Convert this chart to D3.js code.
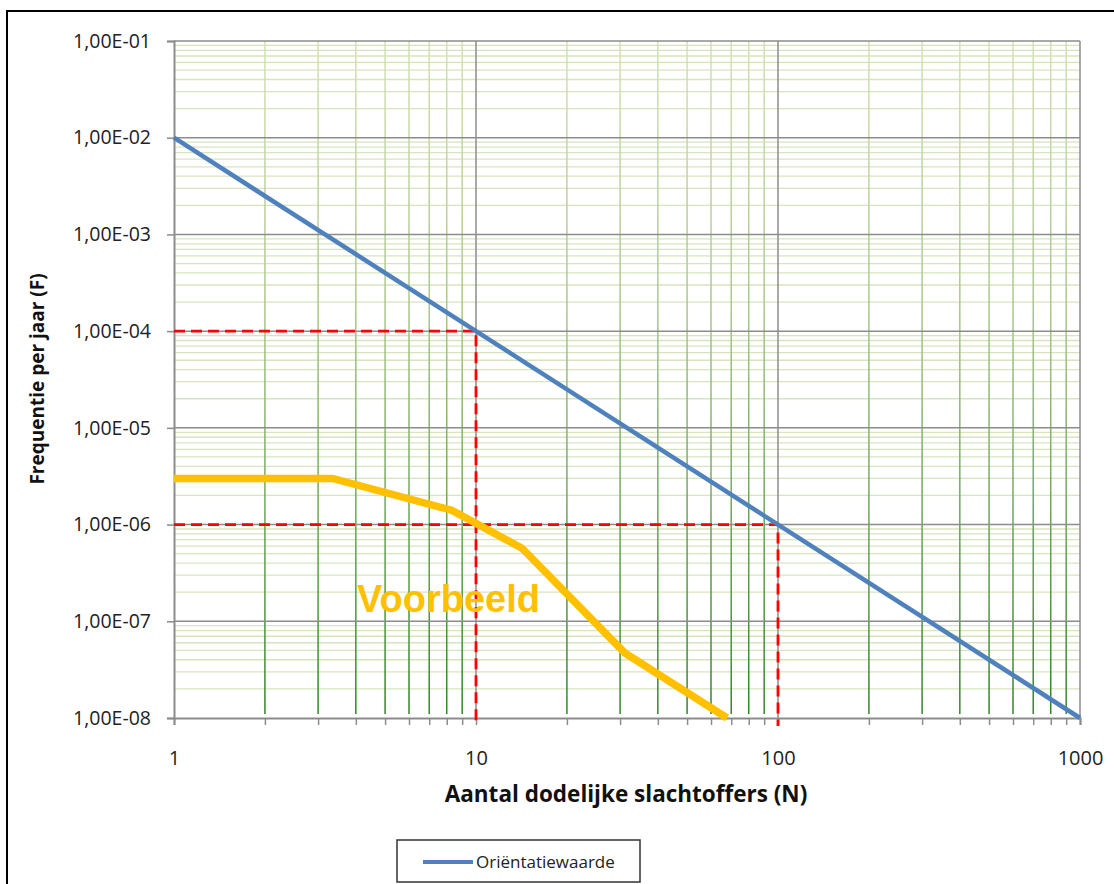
<!DOCTYPE html>
<html lang="nl">
<head>
<meta charset="utf-8">
<title>FN-curve</title>
<script src="https://d3js.org/d3.v7.min.js"></script>
<style>
  body { margin: 0; background: #fff; }
  text { font-family: "Open Sans", Lato, sans-serif; }
</style>
</head>
<body>
<script>
// data
var xDomain = [1, 1000];
var yDomain = [1e-8, 1e-1];
var xTickValues = [1, 10, 100, 1000];
var yTickValues = [1e-1, 1e-2, 1e-3, 1e-4, 1e-5, 1e-6, 1e-7, 1e-8];

var orientN = [1, 1000];
var orientF = [1e-2, 1e-8];

var voorbeeldN = [1, 3.35, 8.3, 14.2, 31.1, 67.8];
var voorbeeldF = [3e-6, 3e-6, 1.41e-6, 5.7e-7, 4.7e-8, 1e-8];

// red reference points (N, F)
var refN = [10, 100];
var refF = [1e-4, 1e-6];

var W = 1114, H = 884;
var pLeft = 174, pRight = 1080, pTop = 41, pBottom = 718;

var svg = d3.select("body").append("svg")
    .attr("width", W).attr("height", H);

// outer frame
svg.append("rect")
    .attr("x", 7).attr("y", 11)
    .attr("width", W + 20).attr("height", H + 20)
    .attr("fill", "none").attr("stroke", "#000").attr("stroke-width", 2);

var x = d3.scaleLog().domain(xDomain).range([pLeft, pRight]);
var y = d3.scaleLog().domain(yDomain).range([pBottom, pTop]);

var defs = svg.append("defs");
var grad = defs.append("linearGradient")
    .attr("id", "vgrad")
    .attr("gradientUnits", "userSpaceOnUse")
    .attr("x1", 0).attr("x2", 0).attr("y1", pTop).attr("y2", pBottom);
grad.append("stop").attr("offset", "0%").attr("stop-color", "#d3e2b4");
grad.append("stop").attr("offset", "40%").attr("stop-color", "#aac68a");
grad.append("stop").attr("offset", "100%").attr("stop-color", "#2f8526");

var g = svg.append("g");

// minor grid values
var xMinor = [], yMinor = [];
for (var d = 1; d < 1000; d *= 10)
  for (var k = 2; k <= 9; k++) xMinor.push(d * k);
for (var e = -8; e < -1; e++)
  for (var k = 2; k <= 9; k++) yMinor.push(k * Math.pow(10, e));

g.selectAll(".ymin").data(yMinor).enter().append("line")
    .attr("x1", pLeft).attr("x2", pRight)
    .attr("y1", function(d) { return y(d); })
    .attr("y2", function(d) { return y(d); })
    .attr("stroke", "#d7e4bd").attr("stroke-width", 1.3);

g.selectAll(".xmin").data(xMinor).enter().append("line")
    .attr("x1", function(d) { return x(d); })
    .attr("x2", function(d) { return x(d); })
    .attr("y1", pTop).attr("y2", pBottom - 4)
    .attr("stroke", "url(#vgrad)").attr("stroke-width", 1.5);

// major grid
g.selectAll(".ymaj").data(yTickValues.slice(0, -1)).enter().append("line")
    .attr("x1", pLeft).attr("x2", pRight)
    .attr("y1", function(d) { return y(d); })
    .attr("y2", function(d) { return y(d); })
    .attr("stroke", "#8c8c8c").attr("stroke-width", 1.5);

g.selectAll(".xmaj").data([10, 100, 1000]).enter().append("line")
    .attr("x1", function(d) { return x(d); })
    .attr("x2", function(d) { return x(d); })
    .attr("y1", pTop).attr("y2", pBottom)
    .attr("stroke", "#8c8c8c").attr("stroke-width", 1.5);

// axes
var fmt = function(d) {
  var ex = Math.round(Math.log10(d));
  var s = Math.abs(ex) < 10 ? "0" + Math.abs(ex) : "" + Math.abs(ex);
  return "1,00E" + (ex < 0 ? "-" : "+") + s;
};

var yAxis = svg.append("g")
    .attr("transform", "translate(" + pLeft + ",0)")
    .call(d3.axisLeft(y).tickValues(yTickValues).tickFormat(fmt).tickSize(7).tickPadding(16));
yAxis.selectAll("text").attr("font-size", 19.5).attr("fill", "#222")
    .style("font-family", "'Open Sans', sans-serif");

var xAxis = svg.append("g")
    .attr("transform", "translate(0," + pBottom + ")")
    .call(d3.axisBottom(x).tickValues(xTickValues.concat(xMinor)).tickFormat(function(d) {
        return xTickValues.indexOf(d) >= 0 ? d : "";
      }).tickSize(7).tickPadding(26));
xAxis.selectAll("text").attr("font-size", 20).attr("fill", "#222")
    .style("font-family", "'Open Sans', sans-serif");

svg.selectAll(".domain").attr("stroke", "#8c8c8c").attr("stroke-width", 2);
svg.selectAll(".tick line").attr("stroke", "#8c8c8c").attr("stroke-width", 1.5);

// red dashed reference lines
refN.forEach(function(n, i) {
  var f = refF[i];
  svg.append("path")
      .attr("d", "M" + x(1) + "," + y(f) + "H" + x(n) + "V" + (y(1e-8) + 8))
      .attr("fill", "none").attr("stroke", "#ff0000")
      .attr("stroke-width", 2.8).attr("stroke-dasharray", "11,6");
});

var line = d3.line()
    .x(function(d) { return x(d[0]); })
    .y(function(d) { return y(d[1]); });

// Voorbeeld curve
svg.append("path")
    .datum(d3.zip(voorbeeldN, voorbeeldF))
    .attr("d", line)
    .attr("fill", "none").attr("stroke", "#ffc000").attr("stroke-width", 7.5)
    .attr("stroke-linejoin", "miter");

// Orientatiewaarde line
svg.append("path")
    .datum(d3.zip(orientN, orientF))
    .attr("d", line)
    .attr("fill", "none").attr("stroke", "#4f81bd").attr("stroke-width", 4.5);

svg.append("text")
    .attr("x", 357).attr("y", 612)
    .attr("font-size", 38).attr("font-weight", "bold")
    .attr("fill", "#ffc000")
    .style("font-family", "'Liberation Sans', Arial, sans-serif")
    .text("Voorbeeld");

// axis titles
svg.append("text")
    .attr("x", 626).attr("y", 802)
    .attr("text-anchor", "middle")
    .attr("font-size", 22.5).attr("font-weight", "bold").attr("fill", "#111")
    .text("Aantal dodelijke slachtoffers (N)");

svg.append("text")
    .attr("transform", "translate(44,379) rotate(-90)")
    .attr("text-anchor", "middle")
    .attr("font-size", 19).attr("font-weight", "bold").attr("fill", "#111")
    .text("Frequentie per jaar (F)");

// legend
var lg = svg.append("g");
lg.append("rect")
    .attr("x", 397).attr("y", 840).attr("width", 243).attr("height", 42)
    .attr("fill", "#fff").attr("stroke", "#333").attr("stroke-width", 1.5);
lg.append("line")
    .attr("x1", 423).attr("x2", 473).attr("y1", 862).attr("y2", 862)
    .attr("stroke", "#4f81bd").attr("stroke-width", 4);
lg.append("text")
    .attr("x", 476).attr("y", 868)
    .attr("font-size", 17).attr("fill", "#222")
    .text("Oriëntatiewaarde");
</script>
</body>
</html>
